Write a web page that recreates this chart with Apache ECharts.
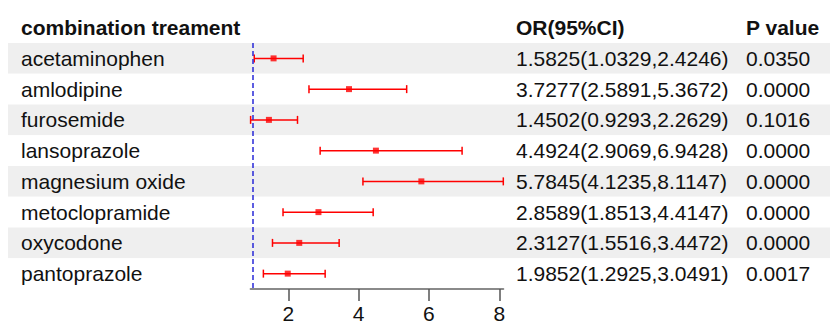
<!DOCTYPE html>
<html>
<head>
<meta charset="utf-8">
<script src="https://cdn.jsdelivr.net/npm/echarts@6/dist/echarts.min.js"></script>
<style>html,body{margin:0;padding:0;background:#fff}#c{width:830px;height:324px}</style>
</head>
<body>
<div id="c"></div>
<script>
const drugs = ['acetaminophen','amlodipine','furosemide','lansoprazole','magnesium oxide','metoclopramide','oxycodone','pantoprazole'];
const orValues = [1.5825,3.7277,1.4502,4.4924,5.7845,2.8589,2.3127,1.9852];
const ciLower = [1.0329,2.5891,0.9293,2.9069,4.1235,1.8513,1.5516,1.2925];
const ciUpper = [2.4246,5.3672,2.2629,6.9428,8.1147,4.4147,3.4472,3.0491];
const pValues = ['0.0350','0.0000','0.1016','0.0000','0.0000','0.0000','0.0000','0.0017'];
const xTicks = [2,4,6,8];
const refLine = 1;

const orText = drugs.map((d,i)=>orValues[i].toFixed(4)+'('+ciLower[i].toFixed(4)+','+ciUpper[i].toFixed(4)+')');
const FONT = '"Liberation Sans", Arial, sans-serif';
const TOP = 43, BOTTOM = 35;
const xMin = Math.min(...ciLower), xMax = Math.max(...ciUpper);

const chart = echarts.init(document.getElementById('c'), null, {renderer:'svg'});

function textAxisY(gridIndex, data, margin){
  return {type:'category', gridIndex, inverse:true, data,
    axisLine:{show:false}, axisTick:{show:false}, splitLine:{show:false},
    axisLabel:{show:true, inside:true, margin, color:'#111', fontSize:21, fontFamily:FONT}};
}
function hiddenX(gridIndex){
  return {type:'value', gridIndex, min:0, max:1, show:false};
}

const yBand = textAxisY(0, drugs, 13);
yBand.splitArea = {show:true, areaStyle:{color:['#efefef','#ffffff']}};

chart.setOption({
  animation:false,
  textStyle:{fontFamily:FONT},
  title:[
    {text:'combination treament', left:21, top:17, padding:0, textStyle:{fontSize:21, fontWeight:'bold', color:'#111', fontFamily:FONT}},
    {text:'OR(95%CI)', left:516, top:17, padding:0, textStyle:{fontSize:21, fontWeight:'bold', color:'#111', fontFamily:FONT}},
    {text:'P value', left:746, top:17, padding:0, textStyle:{fontSize:21, fontWeight:'bold', color:'#111', fontFamily:FONT}}
  ],
  grid:[
    {left:8, right:0, top:TOP, bottom:BOTTOM},
    {left:250.6, right:326.7, top:TOP, bottom:BOTTOM},
    {left:516, width:1, top:TOP, bottom:BOTTOM},
    {left:746, width:1, top:TOP, bottom:BOTTOM}
  ],
  xAxis:[
    hiddenX(0),
    {type:'value', gridIndex:1, min:xMin, max:xMax,
      axisLine:{show:true, lineStyle:{color:'#8a8a8a', width:2}},
      axisTick:{show:true, length:12, customValues:xTicks, lineStyle:{color:'#555', width:1.5}},
      axisLabel:{show:true, customValues:xTicks, margin:14, fontSize:21, color:'#111', fontFamily:FONT},
      splitLine:{show:false}},
    hiddenX(2),
    hiddenX(3)
  ],
  yAxis:[
    yBand,
    {type:'category', gridIndex:1, inverse:true, data:drugs, show:false},
    textAxisY(2, orText, 0),
    textAxisY(3, pValues, 0)
  ],
  series:[
    {type:'custom', xAxisIndex:1, yAxisIndex:1,
      data: drugs.map((d,i)=>[ciLower[i], ciUpper[i], i]),
      encode:{x:[0,1], y:2},
      renderItem:function(params, api){
        const i = api.value(2);
        const a = api.coord([api.value(0), i]);
        const b = api.coord([api.value(1), i]);
        const h = 4;
        const style = {stroke:'#ff0000', lineWidth:1.5};
        return {type:'group', children:[
          {type:'line', shape:{x1:a[0], y1:a[1], x2:b[0], y2:b[1]}, style},
          {type:'line', shape:{x1:a[0], y1:a[1]-h, x2:a[0], y2:a[1]+h}, style},
          {type:'line', shape:{x1:b[0], y1:b[1]-h, x2:b[0], y2:b[1]+h}, style}
        ]};
      },
      z:3
    },
    {type:'scatter', xAxisIndex:1, yAxisIndex:1,
      data: drugs.map((d,i)=>[orValues[i], i]),
      symbol:'rect', symbolSize:6, itemStyle:{color:'#ff0000'}, z:4,
      markLine:{silent:true, symbol:'none', label:{show:false},
        lineStyle:{color:'#2828d8', type:[5,3], width:1.5},
        data:[{xAxis:refLine}]}
    }
  ]
});
</script>
</body>
</html>
